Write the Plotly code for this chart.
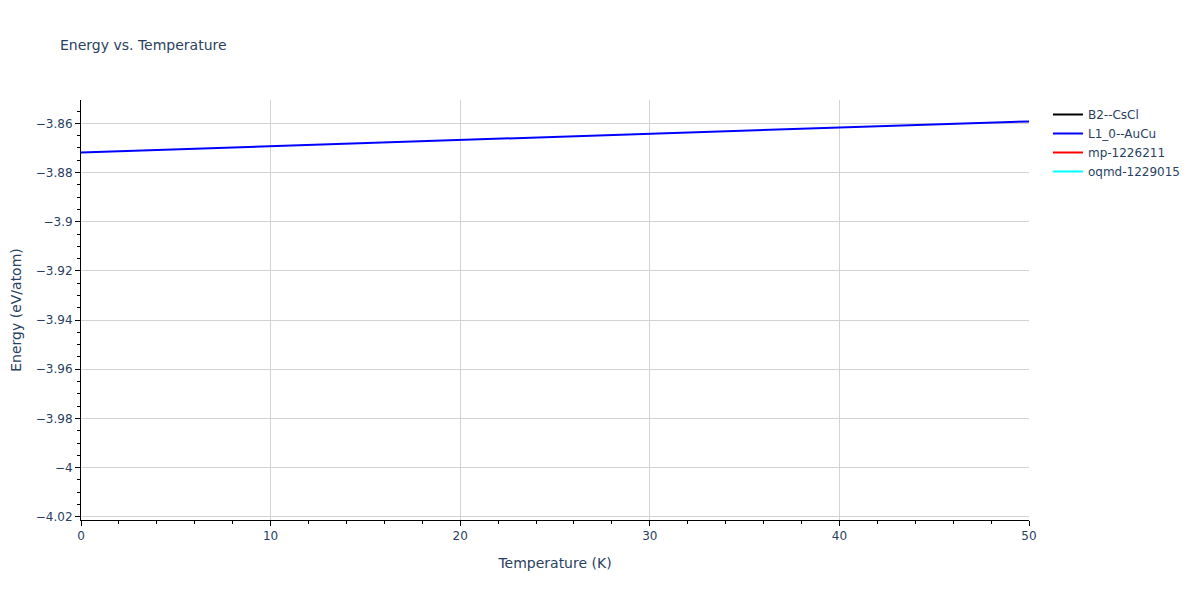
import plotly.graph_objects as go

temps_l10 = [0, 10, 20, 30, 40, 50]
energy_l10 = [-3.8718, -3.8693, -3.8667, -3.8641, -3.8616, -3.8592]

# series not visible in the plotted window
temps_none = [None]
energy_none = [None]

series_names = ["B2--CsCl", "L1_0--AuCu", "mp-1226211", "oqmd-1229015"]
series_colors = ["black", "blue", "red", "cyan"]
series_x = [temps_none, temps_l10, temps_none, temps_none]
series_y = [energy_none, energy_l10, energy_none, energy_none]

x_range = [0, 50]
y_range = [-4.0213, -3.8505]

FONT = "DejaVu Sans, Verdana, sans-serif"

fig = go.Figure()
for name, color, xs, ys in zip(series_names, series_colors, series_x, series_y):
    fig.add_trace(go.Scatter(x=xs, y=ys, mode="lines", name=name, showlegend=True,
                             line=dict(color=color, width=2)))

axis_common = dict(
    showline=True, linecolor="black", linewidth=1,
    ticks="outside", tickcolor="black", ticklen=5,
    gridcolor="lightgrey", zeroline=False, automargin=False,
    tickfont=dict(size=12),
    minor=dict(ticks="outside", ticklen=3, tickcolor="black", showgrid=False),
)

fig.update_layout(
    template="plotly_white",
    width=1200, height=600,
    font=dict(family=FONT, size=12),
    title=dict(text="Energy vs. Temperature", font=dict(size=14),
               x=0.0433, xanchor="left", y=0.9383, yanchor="middle"),
    showlegend=True,
    legend=dict(font=dict(size=12)),
    margin=dict(l=73, r=179, t=92, b=88),
    xaxis=dict(title=dict(text="Temperature (K)", font=dict(size=14)),
               range=x_range, dtick=10, **axis_common),
    yaxis=dict(title=dict(text="Energy (eV/atom)", font=dict(size=14)),
               range=y_range, dtick=0.02, **axis_common),
)
fig.update_xaxes(minor=dict(dtick=2))
fig.update_yaxes(minor=dict(dtick=0.005))

fig.write_html("out.html")
